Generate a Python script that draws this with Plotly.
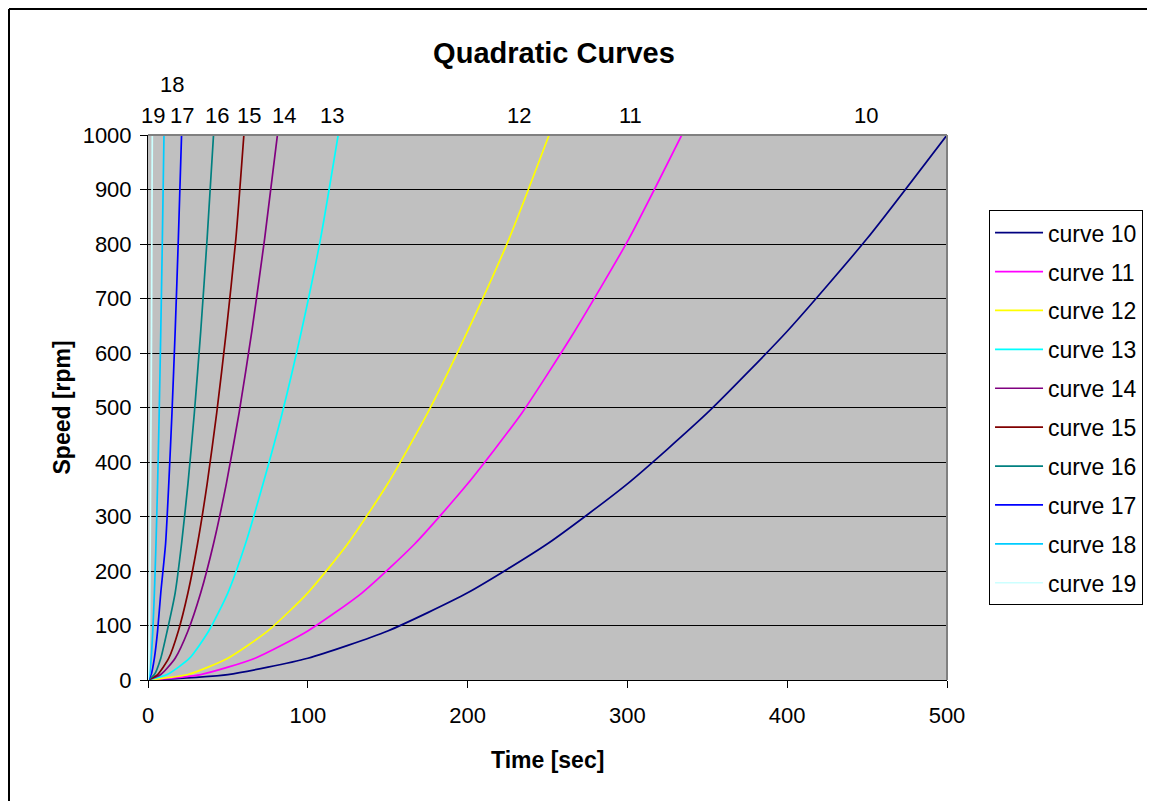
import plotly.graph_objects as go

## ----------- data ----------- ##
# speed points shared by every curve (rpm)
SPEED = [0, 10, 40, 90, 160, 250, 360, 490, 640, 810, 1000]

# time (sec) at which each curve reaches the speeds above
T_CURVE_10 = [0, 50, 100, 150, 200, 250, 300, 350, 400, 450, 500]
T_CURVE_11 = [0, 33, 67, 100, 134, 167, 200, 234, 267, 301, 334]
T_CURVE_12 = [0, 25, 50, 75, 100, 125, 150, 175, 200, 226, 251]
T_CURVE_13 = [0, 12, 26, 38, 50, 61, 72, 84, 96, 108, 119]
T_CURVE_14 = [0, 8, 17, 25, 33, 41, 49, 57, 65, 73, 81]
T_CURVE_15 = [0, 6, 13, 19, 25, 31, 37, 43, 49, 55, 60]
T_CURVE_16 = [0, 4, 8, 12, 17, 21, 25, 29, 33, 37, 41]
T_CURVE_17 = [0, 2, 4, 6, 8, 11, 13, 15, 17, 19, 21]
T_CURVE_18 = [0, 1, 2, 3, 4, 5, 6, 7, 8, 9, 10]
T_CURVE_19 = [0, 0.3, 0.6, 0.9, 1.1, 1.4, 1.6, 1.9, 2.2, 2.4, 2.7]

CURVE_NAMES = ["curve 10", "curve 11", "curve 12", "curve 13", "curve 14",
               "curve 15", "curve 16", "curve 17", "curve 18", "curve 19"]
CURVE_TIMES = [T_CURVE_10, T_CURVE_11, T_CURVE_12, T_CURVE_13, T_CURVE_14,
               T_CURVE_15, T_CURVE_16, T_CURVE_17, T_CURVE_18, T_CURVE_19]
CURVE_COLORS = ["#000080", "#FF00FF", "#FFFF00", "#00FFFF", "#800080",
                "#800000", "#008080", "#0000FF", "#00CCFF", "#CCFFFF"]

# labels above the plot: (text, x position in sec, row)
TOP_LABELS = [("19", 3, 0), ("18", 15, 1), ("17", 21, 0), ("16", 43, 0),
              ("15", 63, 0), ("14", 85, 0), ("13", 115, 0), ("12", 232, 0),
              ("11", 302, 0), ("10", 449, 0)]

X_TICKS = [0, 100, 200, 300, 400, 500]
Y_TICKS = [0, 100, 200, 300, 400, 500, 600, 700, 800, 900, 1000]

FONT = "Liberation Sans, Arial, sans-serif"

# plot area in figure pixels (page has an 8px body margin)
L, T, PW, PH = 140, 127, 799, 545
W, H = 1147, 793

## ----------- plot ----------- ##
fig = go.Figure()
for i, (name, t, col) in enumerate(zip(CURVE_NAMES, CURVE_TIMES, CURVE_COLORS)):
    fig.add_trace(go.Scatter(
        x=t, y=SPEED, mode="lines", name=name,
        line=dict(color=col, width=1.7, shape="spline", smoothing=0.6),
        legendgroup=f"g{i}",
    ))

for text, xv, row in TOP_LABELS:
    fig.add_annotation(
        x=xv, xref="x", y=1.035 if row == 0 else 1.092, yref="paper",
        text=text, showarrow=False, yanchor="middle",
        font=dict(size=22, color="black", family=FONT),
    )

# axis titles
fig.add_annotation(x=0.5, xref="paper", y=0, yref="paper", yshift=-80,
                   text="<b>Time [sec]</b>", showarrow=False, yanchor="middle",
                   font=dict(size=23, color="black", family=FONT))
fig.add_annotation(x=0, xref="paper", y=0.5, yref="paper", xshift=-87,
                   text="<b>Speed [rpm]</b>", showarrow=False, textangle=-90,
                   xanchor="center", yanchor="middle",
                   font=dict(size=23, color="black", family=FONT))

# outer chart border (left and top edges only)
bx = (1 - L) / PW
by = 1 + (T - 1) / PH
fig.add_shape(type="line", xref="paper", yref="paper",
              x0=bx, x1=bx, y0=by, y1=-1, line=dict(color="black", width=2))
fig.add_shape(type="line", xref="paper", yref="paper",
              x0=bx, x1=2, y0=by, y1=by, line=dict(color="black", width=2))

# plot area border on top and right
fig.add_shape(type="line", xref="paper", yref="paper", x0=0, x1=1, y0=1, y1=1,
              line=dict(color="#808080", width=2))
fig.add_shape(type="line", xref="paper", yref="paper", x0=1, x1=1, y0=0, y1=1,
              line=dict(color="#808080", width=2))

fig.update_layout(
    width=W, height=H,
    margin=dict(l=L, r=W - L - PW, t=T, b=H - T - PH),
    title=dict(text="<b>Quadratic Curves</b>", xref="paper", x=(554 - 8 - L) / PW,
               xanchor="center", y=1 - 45 / H, yanchor="middle",
               font=dict(size=29, color="black", family=FONT)),
    paper_bgcolor="white",
    plot_bgcolor="#C0C0C0",
    font=dict(family=FONT, size=22, color="black"),
    xaxis=dict(
        range=[0, 500], tickvals=X_TICKS,
        showgrid=False, zeroline=False,
        showline=True, linecolor="black", linewidth=1,
        ticks="outside", ticklen=7, tickcolor="black",
        tickfont=dict(size=22), ticklabelstandoff=9,
    ),
    yaxis=dict(
        range=[0, 1000], tickvals=Y_TICKS,
        showgrid=True, gridcolor="black", gridwidth=1, zeroline=False,
        showline=True, linecolor="black", linewidth=1,
        ticks="outside", ticklen=7, tickcolor="black",
        tickfont=dict(size=22), ticklabelstandoff=4,
    ),
    legend=dict(
        x=1.0526, xanchor="left", y=0.862, yanchor="top",
        bgcolor="white", bordercolor="black", borderwidth=1,
        font=dict(size=23, color="black"), tracegroupgap=6,
        traceorder="grouped", itemwidth=48,
    ),
    showlegend=True,
)

fig.write_html("out.html")
